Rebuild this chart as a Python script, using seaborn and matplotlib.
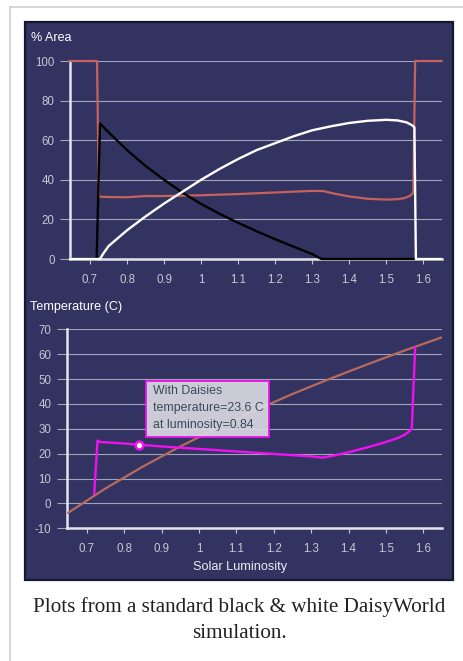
import matplotlib
matplotlib.use("Agg")
import matplotlib.pyplot as plt
from matplotlib.patches import Rectangle
import numpy as np
import pandas as pd
import seaborn as sns

# % area covered (top panel)
red_x = [0.645, 0.719, 0.724, 0.75, 0.8, 0.85, 0.9, 0.95, 1.0, 1.05, 1.1, 1.15, 1.2,
         1.25, 1.3, 1.33, 1.36, 1.4, 1.45, 1.5, 1.53, 1.55, 1.565, 1.573, 1.578, 1.65]
red_y = [100, 100, 31.5, 31.3, 31.2, 31.8, 31.8, 32.0, 32.2, 32.5, 32.8, 33.2, 33.6,
         34.0, 34.4, 34.3, 33.0, 31.6, 30.4, 30.0, 30.2, 30.8, 32.0, 33.5, 100, 100]

black_x = [0.645, 0.718, 0.727, 0.75, 0.8, 0.85, 0.9, 0.95, 1.0, 1.05, 1.1, 1.15, 1.2,
           1.25, 1.3, 1.325, 1.65]
black_y = [0, 0, 68.5, 64, 55, 47, 40, 33.5, 27.8, 22.8, 18.3, 14, 10, 6.2, 2.5, 0, 0]

white_x = [0.645, 0.727, 0.735, 0.75, 0.8, 0.85, 0.9, 0.95, 1.0, 1.05, 1.1, 1.15, 1.2,
           1.25, 1.3, 1.35, 1.4, 1.45, 1.5, 1.53, 1.555, 1.57, 1.576, 1.58, 1.65]
white_y = [0, 0, 2.5, 6.5, 14.5, 21.5, 28, 34, 40, 45.5, 50.5, 55, 58.5, 62, 65, 67,
           68.7, 69.8, 70.3, 70, 69, 67.5, 66.5, 0, 0]

# temperature (bottom panel)
bare_x = [0.65, 0.75, 0.85, 0.95, 1.05, 1.15, 1.25, 1.35, 1.45, 1.55, 1.65]
bare_y = [-3.8, 6.0, 14.8, 22.9, 30.4, 37.4, 44.0, 50.1, 55.9, 61.5, 66.8]

daisy_x = [0.72, 0.729, 0.735, 0.8, 0.84, 0.9, 1.0, 1.1, 1.2, 1.3, 1.33, 1.36, 1.4,
           1.45, 1.5, 1.53, 1.55, 1.562, 1.569, 1.578]
daisy_y = [3.8, 25.3, 24.7, 24.1, 23.6, 22.9, 21.9, 20.9, 19.9, 18.9, 18.4, 19.2, 20.6,
           22.5, 24.7, 26.2, 27.6, 29.0, 29.9, 62.8]

hover_x = [0.84]
hover_y = [23.6]

x_ticks = [0.7, 0.8, 0.9, 1, 1.1, 1.2, 1.3, 1.4, 1.5, 1.6]
x_labels = ["0.7", "0.8", "0.9", "1", "1.1", "1.2", "1.3", "1.4", "1.5", "1.6"]
area_ticks = [0, 20, 40, 60, 80, 100]
temp_ticks = [-10, 0, 10, 20, 30, 40, 50, 60, 70]

BG = "#333361"
GRID = "#a2a2ba"
TICK = "#c6c6d2"
SPINE = "#e4e4ec"

sns.set_style("dark", {"axes.facecolor": "none"})
plt.rcParams["font.family"] = ["Liberation Sans", "DejaVu Sans"]

W, H = 463, 661
fig = plt.figure(figsize=(W / 100, H / 100), dpi=100)
fig.patch.set_facecolor("white")


def fx(px):
    return px / W


def fy(py):
    return 1 - py / H


# thumbnail frame and dark panel
fig.add_artist(plt.Line2D([fx(10), fx(10)], [fy(7), 0], color="#cfcfcf", lw=1.2, zorder=-5))
fig.add_artist(plt.Line2D([fx(10), 1], [fy(7), fy(7)], color="#cfcfcf", lw=1.2, zorder=-5))
fig.add_artist(Rectangle((fx(25), fy(580)), fx(428), 558 / H, facecolor=BG,
                         edgecolor="#16162e", lw=1.6, transform=fig.transFigure,
                         zorder=-5))


def style_axes(ax, yticks, xlim, ylim):
    ax.set_xlim(*xlim)
    ax.set_ylim(*ylim)
    ax.set_xticks(x_ticks)
    ax.set_xticklabels(x_labels)
    ax.set_yticks(yticks)
    ax.set_yticklabels([str(t) for t in yticks])
    for s in ["top", "right"]:
        ax.spines[s].set_visible(False)
    for s in ["left", "bottom"]:
        ax.spines[s].set_visible(True)
        ax.spines[s].set_color(SPINE)
        ax.spines[s].set_linewidth(1.8)
        ax.spines[s].set_zorder(1)
    ax.grid(False)
    for t in yticks:
        ax.axhline(t, color=GRID, lw=0.8, zorder=0.5)
    ax.tick_params(axis="y", left=True, length=7.5, width=0.8, color=GRID,
                   labelcolor=TICK, labelsize=8.3, pad=3.5)
    ax.tick_params(axis="x", bottom=True, length=3.5, width=0.8, color=TICK,
                   labelcolor=TICK, labelsize=8.3, pad=7)
    ax.set_xlabel("")
    ax.set_ylabel("")


# top: % area
ax1 = fig.add_axes([fx(70), fy(259), fx(372), 198 / H])
sns.lineplot(x=red_x, y=red_y, ax=ax1, color="#c4625c", lw=1.6, sort=False,
             estimator=None, clip_on=False, zorder=3)
sns.lineplot(x=black_x, y=black_y, ax=ax1, color="black", lw=1.7, sort=False,
             estimator=None, clip_on=False, zorder=4)
sns.lineplot(x=white_x, y=white_y, ax=ax1, color="white", lw=1.7, sort=False,
             estimator=None, clip_on=False, zorder=4)
style_axes(ax1, area_ticks, (0.646, 1.6505), (0, 100))
fig.text(fx(31), fy(38), "% Area", color="white", fontsize=9, va="center", ha="left")

# bottom: temperature
ax2 = fig.add_axes([fx(66.7), fy(528.3), fx(375), 199 / H])
sns.lineplot(x=bare_x, y=bare_y, ax=ax2, color="#b86a5c", lw=1.6, sort=False,
             estimator=None, zorder=3)
sns.lineplot(x=daisy_x, y=daisy_y, ax=ax2, color="#f010f0", lw=1.7, sort=False,
             estimator=None, zorder=4)
sns.scatterplot(x=hover_x, y=hover_y, ax=ax2, s=32, color="white",
                edgecolor="#f010f0", linewidth=1.8, zorder=6)
style_axes(ax2, temp_ticks, (0.6465, 1.649), (-10, 70))
fig.text(fx(30), fy(307), "Temperature (C)", color="white", fontsize=9.1,
         va="center", ha="left")
fig.text(fx(240), fy(567), "Solar Luminosity", color="#ececf2", fontsize=9.2,
         va="center", ha="center")

# tooltip
fig.add_artist(Rectangle((fx(145.7), fy(437.3)), fx(123.6), 56.6 / H,
                         facecolor="#d8d8e2", alpha=0.93, edgecolor="#f010f0",
                         lw=1.4, transform=fig.transFigure, zorder=10))
tip_lines = ["With Daisies", "temperature=23.6 C", "at luminosity=0.84"]
for i, line in enumerate(tip_lines):
    fig.text(fx(153), fy(391 + 17 * i), line, color="#3c4a58", fontsize=8.9,
             va="center", ha="left", zorder=11)

# caption
cap_font = ["Liberation Serif", "DejaVu Serif"]
fig.text(fx(239), fy(612), "Plots from a standard black & white DaisyWorld",
         family=cap_font, fontsize=15.2, color="#202122", ha="center", va="baseline")
fig.text(fx(239), fy(638), "simulation.", family=cap_font, fontsize=15.2,
         color="#202122", ha="center", va="baseline")

fig.savefig("out.png", dpi=100, facecolor="white")
